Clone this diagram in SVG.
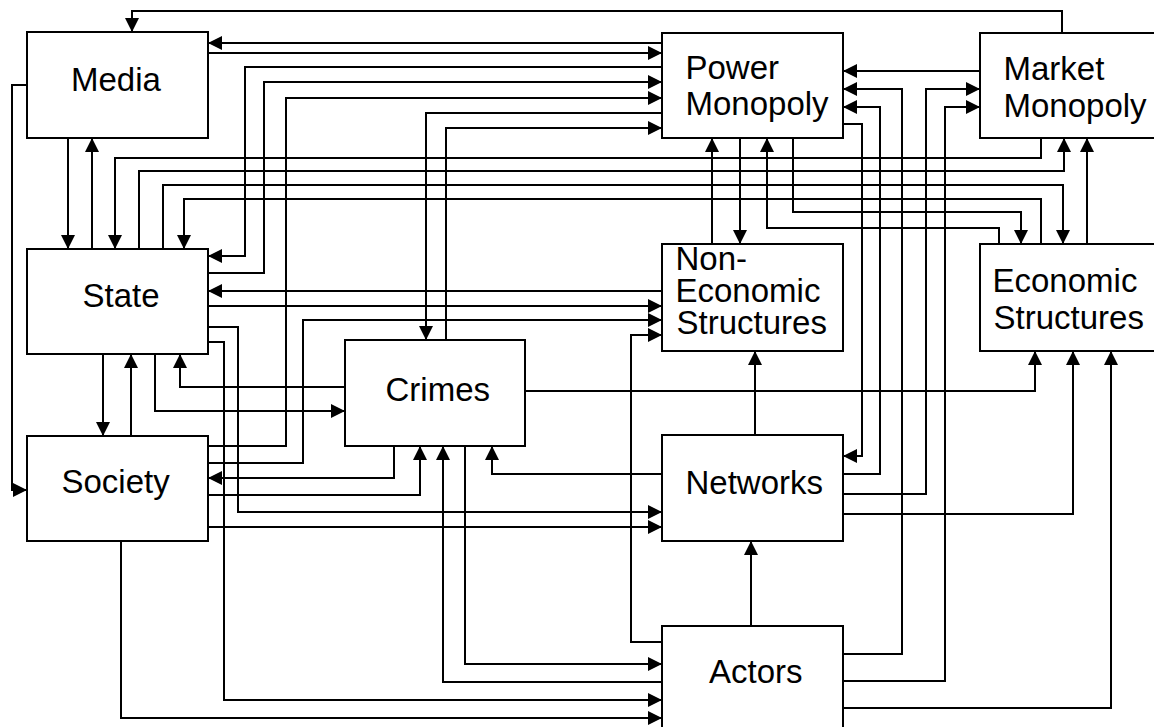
<svg xmlns="http://www.w3.org/2000/svg" width="1154" height="727" viewBox="0 0 1154 727">
<style>
.c path{fill:none;stroke:#000;stroke-width:2;marker-end:url(#a)}
.c path.n{marker-end:none}
.box{fill:#fff;stroke:#000;stroke-width:2}
text{font-family:"Liberation Sans",Arial,sans-serif;font-size:33px;fill:#000}
</style>
<defs>
<marker id="a" viewBox="0 0 14 14" markerWidth="14" markerHeight="14" markerUnits="userSpaceOnUse" refX="14" refY="7" orient="auto">
<path d="M0,0 L14,7 L0,14 z" fill="#000"/>
</marker>
</defs>
<rect width="1154" height="727" fill="#fff"/>
<g id="connectors" class="c">
<path d="M1062,33 V11 H132 V32"/>
<path d="M662,43 H208"/>
<path d="M208,53 H662"/>
<path d="M662,67 H245 V256 H208"/>
<path d="M208,273 H264 V82 H662"/>
<path d="M208,446 H286 V98 H662"/>
<path d="M662,113 H426 V340"/>
<path d="M446,340 V128 H662"/>
<path d="M1041,138 V158 H115 V249"/>
<path d="M139,249 V171 H1064 V138"/>
<path d="M163,249 V185 H1063 V244"/>
<path d="M1041,244 V199 H184 V249"/>
<path d="M712,244 V138"/>
<path d="M740,138 V244"/>
<path d="M999,244 V228 H767 V138"/>
<path d="M793,138 V212 H1021 V244"/>
<path d="M1087,244 V138"/>
<path d="M980,71 H843"/>
<path d="M843,654 H902 V89 H843"/>
<path d="M843,474 H880 V107 H843"/>
<path d="M843,124 H862 V456 H843"/>
<path d="M843,494 H926 V89 H980"/>
<path d="M843,681 H945 V107 H980"/>
<path d="M525,391 H1035 V351"/>
<path d="M843,514 H1073 V351"/>
<path d="M843,708 H1111 V351"/>
<path d="M755,435 V351"/>
<path d="M751,626 V541"/>
<path d="M662,291 H208"/>
<path d="M208,306 H662"/>
<path d="M208,463 H303 V320 H662"/>
<path d="M662,642 H631 V335 H662"/>
<path d="M208,327 H238 V512 H662"/>
<path d="M208,342 H224 V700 H662"/>
<path d="M103,354 V436"/>
<path d="M131,436 V354"/>
<path d="M155,354 V411 H345"/>
<path d="M345,387 H180 V354"/>
<path d="M394,446 V478 H208"/>
<path d="M208,495 H420 V446"/>
<path d="M208,527 H662"/>
<path d="M121,541 V718 H662"/>
<path d="M465,446 V664 H662"/>
<path d="M662,682 H443 V446"/>
<path d="M662,474 H492 V446"/>
<path d="M27,85 H12 V490 H27"/>
<path d="M68,138 V249"/>
<path d="M92,249 V138"/>
</g>
<g id="media"><rect class="box" x="27" y="32" width="181" height="106"/><text x="71" y="91">Media</text></g>
<g id="state"><rect class="box" x="27" y="249" width="181" height="105"/><text x="82.5" y="307">State</text></g>
<g id="society"><rect class="box" x="27" y="436" width="181" height="105"/><text x="61.5" y="493">Society</text></g>
<g id="crimes"><rect class="box" x="345" y="340" width="180" height="106"/><text x="385.5" y="401">Crimes</text></g>
<g id="power-monopoly"><rect class="box" x="662" y="33" width="181" height="105"/><text x="685.5" y="79">Power</text><text x="685.5" y="115">Monopoly</text></g>
<g id="market-monopoly"><rect class="box" x="980" y="33" width="190" height="105"/><text x="1003.5" y="80">Market</text><text x="1003.5" y="117">Monopoly</text></g>
<g id="non-economic-structures"><rect class="box" x="662" y="244" width="181" height="107"/><text x="675.5" y="270">Non-</text><text x="675.5" y="302">Economic</text><text x="676.5" y="334">Structures</text></g>
<g id="economic-structures"><rect class="box" x="980" y="244" width="190" height="107"/><text x="992.5" y="292">Economic</text><text x="993.5" y="329">Structures</text></g>
<g id="networks"><rect class="box" x="662" y="435" width="181" height="106"/><text x="685.5" y="494">Networks</text></g>
<g id="actors"><rect class="box" x="662" y="626" width="181" height="120"/><text x="709" y="683">Actors</text></g>
</svg>
